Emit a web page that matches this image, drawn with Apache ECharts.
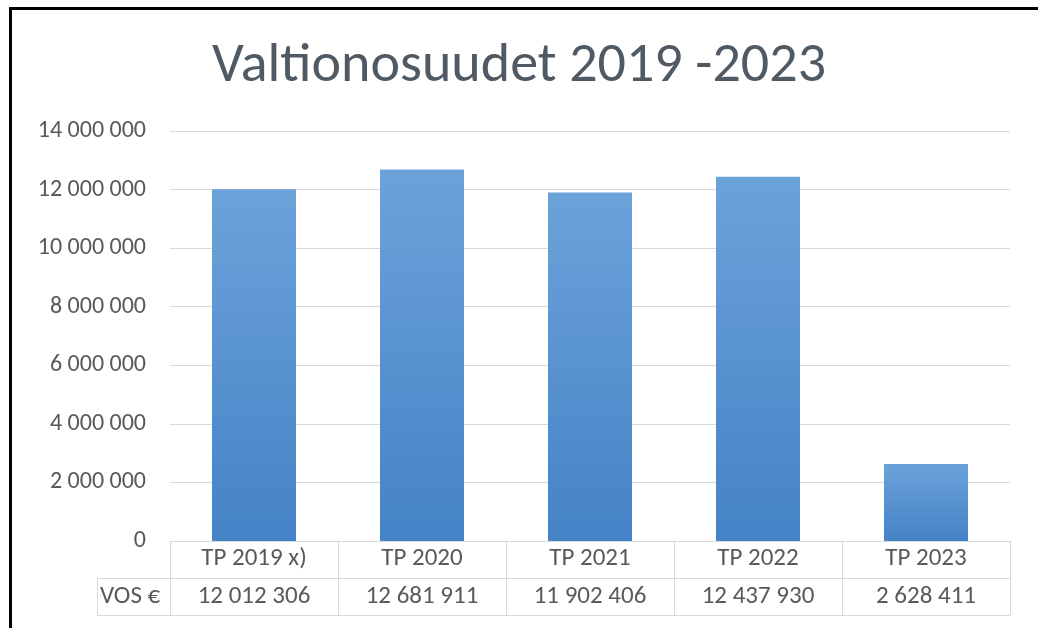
<!DOCTYPE html>
<html>
<head>
<meta charset="utf-8">
<script src="https://cdn.jsdelivr.net/npm/echarts@6/dist/echarts.min.js"></script>
<style>
  html, body { margin: 0; padding: 0; background: #fff; }
  #frame { position: absolute; left: 9px; top: 7px; width: 1029px; height: 621px;
           border-top: 3px solid #000; border-left: 3px solid #000; box-sizing: border-box; }
  #chart { position: absolute; left: 0; top: 0; width: 1038px; height: 628px; }
</style>
</head>
<body>
<div id="chart"></div>
<div id="frame"></div>
<script>
const categories = ['TP 2019 x)', 'TP 2020', 'TP 2021', 'TP 2022', 'TP 2023'];
const vosValues = [12012306, 12681911, 11902406, 12437930, 2628411];
const rowLabel = 'VOS €';

const fmt = v => String(v).replace(/\B(?=(\d{3})+(?!\d))/g, ' ');

const chart = echarts.init(document.getElementById('chart'));

const textColor = '#595959';
const lineColor = '#d9d9d9';
const font = 'Carlito, Calibri, "Open Sans", sans-serif';

const option = {
    backgroundColor: '#fff',
    animation: false,
    title: {
        text: 'Valtionosuudet 2019 -2023',
        left: 'center',
        top: 34,
        textStyle: { fontFamily: font, fontWeight: 'normal', fontSize: 56, color: '#505a64' }
    },
    grid: { left: 170, right: 28, top: 131, bottom: 87 },
    xAxis: [
        {
            type: 'category',
            data: categories,
            position: 'bottom',
            axisLine: { lineStyle: { color: lineColor, width: 1 } },
            axisTick: { show: true, length: 74, lineStyle: { color: lineColor } },
            axisLabel: { color: textColor, fontSize: 25, fontFamily: font, margin: 5 }
        },
        {
            type: 'category',
            data: vosValues.map(fmt),
            position: 'bottom',
            offset: 37,
            axisLine: { lineStyle: { color: lineColor, width: 1 } },
            axisTick: { show: false },
            axisLabel: { color: textColor, fontSize: 25, fontFamily: font, margin: 6 }
        },
        {
            type: 'category',
            data: categories,
            position: 'bottom',
            offset: 74,
            axisLine: { lineStyle: { color: lineColor, width: 1 } },
            axisTick: { show: false },
            axisLabel: { show: false }
        }
    ],
    yAxis: {
        type: 'value',
        min: 0,
        max: 14000000,
        interval: 2000000,
        axisLine: { show: false },
        axisTick: { show: false },
        axisLabel: { color: textColor, fontSize: 24, fontFamily: font, margin: 24, formatter: v => fmt(v) },
        splitLine: { lineStyle: { color: lineColor, width: 1 } }
    },
    graphic: [
        { type: 'text', left: 100, top: 584, style: { text: rowLabel, fill: textColor, font: '25px ' + font } },
        { type: 'line', shape: { x1: 97, y1: 578.5, x2: 170, y2: 578.5 }, style: { stroke: lineColor } },
        { type: 'line', shape: { x1: 97, y1: 615.5, x2: 170, y2: 615.5 }, style: { stroke: lineColor } },
        { type: 'line', shape: { x1: 97.5, y1: 578, x2: 97.5, y2: 616 }, style: { stroke: lineColor } }
    ],
    series: [
        {
            type: 'bar',
            xAxisIndex: 0,
            barWidth: '50%',
            itemStyle: {
                color: new echarts.graphic.LinearGradient(0, 0, 0, 1, [
                    { offset: 0, color: '#6ca2da' },
                    { offset: 1, color: '#4483c6' }
                ])
            },
            data: vosValues
        }
    ]
};

chart.setOption(option);
</script>
</body>
</html>
